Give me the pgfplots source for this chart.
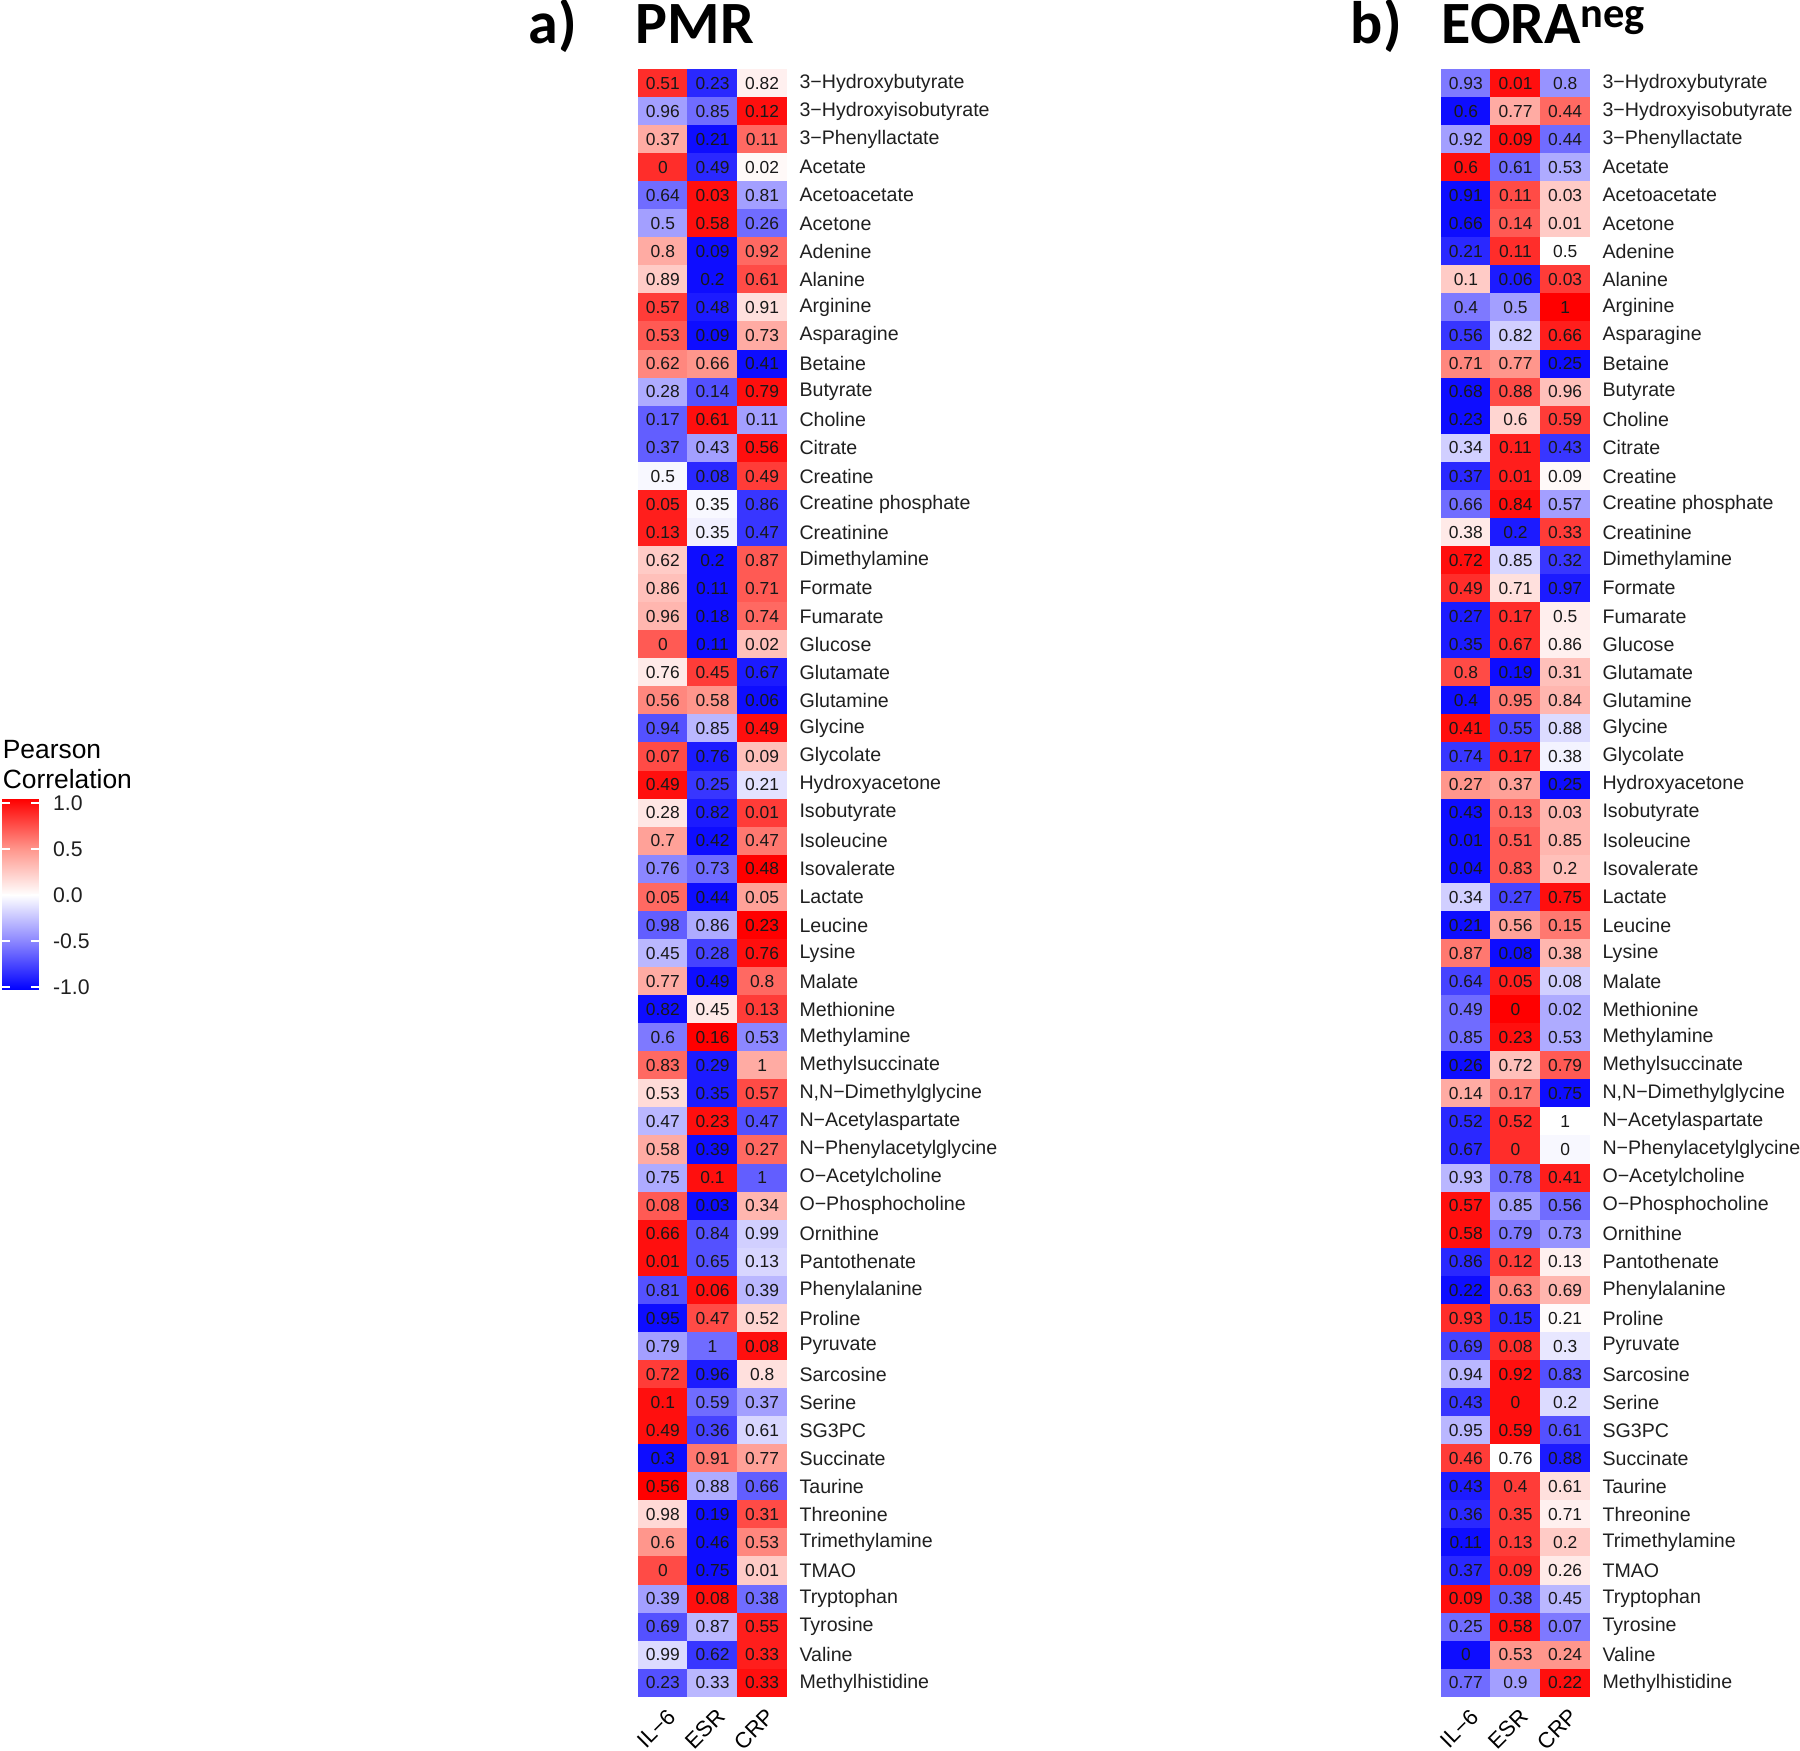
\documentclass[border=0pt]{standalone}
\usepackage{pgfplots}
\pgfplotsset{compat=1.18}
\usepackage{pgfplotstable}
\usepackage{fontspec}
\setmainfont{Liberation Sans}
\newfontfamily\calfont{Carlito}

\pgfplotsset{colormap={bwr}{rgb255(0cm)=(0,0,255); rgb255(1cm)=(140,135,255); rgb255(2cm)=(255,255,255); rgb255(3cm)=(255,150,140); rgb255(4cm)=(255,0,0)}}

\pgfdeclareplotmark{cell}{\pgfpathrectangle{\pgfpoint{-6.3pt}{-3.56pt}}{\pgfpoint{12.6pt}{7.12pt}}\pgfusepathqfill}

\pgfplotstableread{
r c1 c2 c3 t1 t2 t3
1 0.85 -0.85 0.07 0.51 0.23 0.82
2 -0.4 -0.6 0.95 0.96 0.85 0.12
3 0.4 -0.95 0.65 0.37 0.21 0.11
4 0.85 -0.85 0.03 0 0.49 0.02
5 -0.6 0.95 -0.4 0.64 0.03 0.81
6 -0.4 0.95 -0.6 0.5 0.58 0.26
7 0.4 -0.95 0.65 0.8 0.09 0.92
8 0.25 -0.95 0.75 0.89 0.2 0.61
9 0.8 -0.9 0.15 0.57 0.48 0.91
10 0.7 -0.95 0.4 0.53 0.09 0.73
11 0.55 0.5 -0.95 0.62 0.66 0.41
12 -0.35 -0.7 0.95 0.28 0.14 0.79
13 -0.65 0.95 -0.4 0.17 0.61 0.11
14 -0.65 -0.4 0.95 0.37 0.43 0.56
15 -0.03 -0.85 0.8 0.5 0.08 0.49
16 0.9 -0.03 -0.8 0.05 0.35 0.86
17 0.9 -0.06 -0.8 0.13 0.35 0.47
18 0.25 -0.95 0.7 0.62 0.2 0.87
19 0.3 -0.95 0.7 0.86 0.11 0.71
20 0.35 -0.95 0.65 0.96 0.18 0.74
21 0.7 -0.95 0.3 0 0.11 0.02
22 0.1 0.8 -0.9 0.76 0.45 0.67
23 0.55 0.5 -0.95 0.56 0.58 0.06
24 -0.7 -0.3 0.95 0.94 0.85 0.49
25 0.75 -0.9 0.3 0.07 0.76 0.09
26 0.95 -0.8 -0.12 0.49 0.25 0.21
27 0.12 -0.9 0.8 0.28 0.82 0.01
28 0.45 -0.95 0.6 0.7 0.42 0.47
29 -0.5 -0.6 1.0 0.76 0.73 0.48
30 0.65 -0.95 0.45 0.05 0.44 0.05
31 -0.65 -0.35 1.0 0.98 0.86 0.23
32 -0.3 -0.75 0.95 0.45 0.28 0.76
33 0.4 -0.95 0.65 0.77 0.49 0.8
34 -0.95 0.1 0.8 0.82 0.45 0.13
35 -0.55 1.0 -0.5 0.6 0.16 0.53
36 0.65 -0.9 0.4 0.83 0.29 1
37 0.17 -0.9 0.75 0.53 0.35 0.57
38 -0.3 0.95 -0.7 0.47 0.23 0.47
39 0.4 -0.95 0.65 0.58 0.39 0.27
40 -0.35 0.95 -0.65 0.75 0.1 1
41 0.7 -0.95 0.35 0.08 0.03 0.34
42 0.95 -0.7 -0.2 0.66 0.84 0.99
43 0.95 -0.7 -0.17 0.01 0.65 0.13
44 -0.7 0.95 -0.3 0.81 0.06 0.39
45 -0.95 0.75 0.2 0.95 0.47 0.52
46 -0.4 -0.6 0.95 0.79 1 0.08
47 0.8 -0.9 0.15 0.72 0.96 0.8
48 0.95 -0.6 -0.4 0.1 0.59 0.37
49 0.95 -0.75 -0.17 0.49 0.36 0.61
50 -0.95 0.6 0.45 0.3 0.91 0.77
51 1.0 -0.35 -0.65 0.56 0.88 0.66
52 0.18 -0.95 0.75 0.98 0.19 0.31
53 0.5 -0.95 0.55 0.6 0.46 0.53
54 0.75 -0.95 0.25 0 0.75 0.01
55 -0.4 0.95 -0.6 0.39 0.08 0.38
56 -0.7 -0.3 0.9 0.69 0.87 0.55
57 -0.15 -0.8 0.9 0.99 0.62 0.33
58 -0.7 -0.3 0.95 0.23 0.33 0.33
}\dataA

\pgfplotstableread{
r c1 c2 c3 t1 t2 t3
1 -0.55 0.95 -0.45 0.93 0.01 0.8
2 -0.95 0.4 0.65 0.6 0.77 0.44
3 -0.4 0.95 -0.6 0.92 0.09 0.44
4 0.95 -0.6 -0.35 0.6 0.61 0.53
5 -0.95 0.75 0.25 0.91 0.11 0.03
6 -0.95 0.7 0.25 0.66 0.14 0.01
7 -0.85 0.85 0.0 0.21 0.11 0.5
8 0.25 -0.9 0.8 0.1 0.06 0.03
9 -0.55 -0.4 1.0 0.4 0.5 1
10 -0.8 -0.2 0.9 0.56 0.82 0.66
11 0.55 0.5 -0.95 0.71 0.77 0.25
12 -0.95 0.75 0.3 0.68 0.88 0.96
13 -0.95 0.2 0.8 0.23 0.6 0.59
14 -0.2 0.9 -0.8 0.34 0.11 0.43
15 -0.85 0.9 0.03 0.37 0.01 0.09
16 -0.6 0.95 -0.4 0.66 0.84 0.57
17 0.1 -0.9 0.8 0.38 0.2 0.33
18 0.95 -0.17 -0.8 0.72 0.85 0.32
19 0.85 0.15 -0.9 0.49 0.71 0.97
20 -0.9 0.85 0.08 0.27 0.17 0.5
21 -0.9 0.85 0.07 0.35 0.67 0.86
22 0.75 -0.95 0.3 0.8 0.19 0.31
23 -0.95 0.6 0.35 0.4 0.95 0.84
24 0.95 -0.75 -0.15 0.41 0.55 0.88
25 -0.8 0.9 -0.05 0.74 0.17 0.38
26 0.5 0.45 -0.95 0.27 0.37 0.25
27 -0.95 0.65 0.35 0.43 0.13 0.03
28 -0.95 0.7 0.35 0.01 0.51 0.85
29 -0.95 0.7 0.3 0.04 0.83 0.2
30 -0.2 -0.75 0.95 0.34 0.27 0.75
31 -0.95 0.45 0.6 0.21 0.56 0.15
32 0.6 -0.95 0.35 0.87 0.08 0.38
33 -0.75 0.9 -0.2 0.64 0.05 0.08
34 -0.6 1.0 -0.35 0.49 0 0.02
35 -0.6 0.95 -0.35 0.85 0.23 0.53
36 -0.95 0.3 0.7 0.26 0.72 0.79
37 0.4 0.6 -0.95 0.14 0.17 0.75
38 -0.85 0.85 0.0 0.52 0.52 1
39 -0.85 0.85 -0.03 0.67 0 0
40 -0.3 -0.6 0.9 0.93 0.78 0.41
41 0.95 -0.4 -0.6 0.57 0.85 0.56
42 0.95 -0.55 -0.45 0.58 0.79 0.73
43 -0.85 0.8 0.07 0.86 0.12 0.13
44 -0.95 0.55 0.35 0.22 0.63 0.69
45 0.85 -0.85 0.02 0.93 0.15 0.21
46 -0.75 0.85 -0.1 0.69 0.08 0.3
47 -0.3 0.95 -0.7 0.94 0.92 0.83
48 -0.8 0.95 -0.15 0.43 0 0.2
49 -0.3 0.95 -0.7 0.95 0.59 0.61
50 0.8 0.0 -0.9 0.46 0.76 0.88
51 -0.9 0.8 0.15 0.43 0.4 0.61
52 -0.85 0.8 0.07 0.36 0.35 0.71
53 -0.95 0.8 0.25 0.11 0.13 0.2
54 -0.85 0.85 0.1 0.37 0.09 0.26
55 0.95 -0.65 -0.3 0.09 0.38 0.45
56 -0.6 0.95 -0.55 0.25 0.58 0.07
57 -0.95 0.5 0.5 0 0.53 0.24
58 -0.6 -0.4 0.95 0.77 0.9 0.22
}\dataB

\pgfplotsset{
  hm/.style={
    scale only axis, width=37.25pt, height=407pt,
    xmin=-0.5, xmax=2.5, ymin=0.5, ymax=58.5, y dir=reverse,
    axis line style={draw=none}, major tick length=0pt, tick style={draw=none},
    xtick={0,1,2}, xticklabels={IL−6,ESR,CRP},
    ytick={1,...,58}, yticklabel pos=right,
    yticklabels={3−Hydroxybutyrate,3−Hydroxyisobutyrate,3−Phenyllactate,Acetate,Acetoacetate,Acetone,Adenine,Alanine,Arginine,Asparagine,Betaine,Butyrate,Choline,Citrate,Creatine,Creatine phosphate,Creatinine,Dimethylamine,Formate,Fumarate,Glucose,Glutamate,Glutamine,Glycine,Glycolate,Hydroxyacetone,Isobutyrate,Isoleucine,Isovalerate,Lactate,Leucine,Lysine,Malate,Methionine,Methylamine,Methylsuccinate,{N,N−Dimethylglycine},N−Acetylaspartate,N−Phenylacetylglycine,O−Acetylcholine,O−Phosphocholine,Ornithine,Pantothenate,Phenylalanine,Proline,Pyruvate,Sarcosine,Serine,SG3PC,Succinate,Taurine,Threonine,Trimethylamine,TMAO,Tryptophan,Tyrosine,Valine,Methylhistidine},
    yticklabel style={anchor=west, font=\fontsize{4.9}{5.5}\selectfont, text=black!88, xshift=-0.4pt},
    xticklabel style={rotate=45, anchor=north east, font=\fontsize{5.5}{6}\selectfont, text=black, inner sep=0.3pt, xshift=-0.8pt, yshift=-1.9pt},
    colormap name=bwr, point meta min=-1, point meta max=1,
    clip=false,
  },
  cellplot/.style={scatter, only marks, mark=cell, point meta=explicit,
    scatter/use mapped color={draw=mapped color, fill=mapped color}},
  labplot/.style={only marks, mark=none, nodes near coords, point meta=explicit symbolic,
    every node near coord/.append style={anchor=center, font=\fontsize{4.35}{4.8}\selectfont, text=black!90, inner sep=0pt}},
}

\begin{document}
\begin{tikzpicture}
\useasboundingbox (0,0) rectangle (450pt,437.5pt);

% titles
\node[anchor=base west, inner sep=0pt, font=\calfont\bfseries\fontsize{15}{18}\selectfont] at (132pt,426.6pt) {a)};
\node[anchor=base west, inner sep=0pt, font=\calfont\bfseries\fontsize{15}{18}\selectfont] at (158.75pt,426.6pt) {PMR};
\node[anchor=base west, inner sep=0pt, font=\calfont\bfseries\fontsize{15}{18}\selectfont] at (337.5pt,426.6pt) {b)};
\node[anchor=base west, inner sep=0pt, font=\calfont\bfseries\fontsize{15}{18}\selectfont] at (360.25pt,426.6pt) {EORA\raisebox{4.1pt}{\fontsize{10.6}{12}\selectfont neg}};

% legend title
\node[anchor=base west, inner sep=0pt, font=\fontsize{6.6}{7.5}\selectfont] at (0.5pt,248pt) {Pearson};
\node[anchor=base west, inner sep=0pt, font=\fontsize{6.6}{7.5}\selectfont] at (0.5pt,240.5pt) {Correlation};

% colour bar
\begin{axis}[at={(0.5pt,190.75pt)}, anchor=south west, scale only axis,
  width=9.25pt, height=46pt, xmin=0, xmax=1, ymin=-1, ymax=1,
  hide x axis, axis line style={draw=none}, axis on top,
  colormap name=bwr, point meta min=-1, point meta max=1,
  ytick={-1,-0.5,0,0.5,1}, yticklabels={-1.0,-0.5,0.0,0.5,1.0},
  yticklabel pos=right, tick align=inside, major tick length=2pt,
  ytick style={white, line width=0.5pt},
  yticklabel style={anchor=west, font=\fontsize{5.3}{6}\selectfont, text=black!88},
  clip=false]
\addplot[surf, shader=interp, mesh/cols=2, point meta=y] table {
x y
0 -1.03
1 -1.03
0 -0.5
1 -0.5
0 0
1 0
0 0.5
1 0.5
0 1.04
1 1.04
};
\end{axis}

% panel a
\begin{axis}[hm, at={(159.5pt,13.25pt)}, anchor=south west]
\addplot[cellplot] table[x expr=0, y=r, meta=c1] {\dataA};
\addplot[cellplot] table[x expr=1, y=r, meta=c2] {\dataA};
\addplot[cellplot] table[x expr=2, y=r, meta=c3] {\dataA};
\addplot[labplot] table[x expr=0, y=r, meta=t1] {\dataA};
\addplot[labplot] table[x expr=1, y=r, meta=t2] {\dataA};
\addplot[labplot] table[x expr=2, y=r, meta=t3] {\dataA};
\end{axis}

% panel b
\begin{axis}[hm, at={(360.25pt,13.25pt)}, anchor=south west]
\addplot[cellplot] table[x expr=0, y=r, meta=c1] {\dataB};
\addplot[cellplot] table[x expr=1, y=r, meta=c2] {\dataB};
\addplot[cellplot] table[x expr=2, y=r, meta=c3] {\dataB};
\addplot[labplot] table[x expr=0, y=r, meta=t1] {\dataB};
\addplot[labplot] table[x expr=1, y=r, meta=t2] {\dataB};
\addplot[labplot] table[x expr=2, y=r, meta=t3] {\dataB};
\end{axis}
\end{tikzpicture}
\end{document}
